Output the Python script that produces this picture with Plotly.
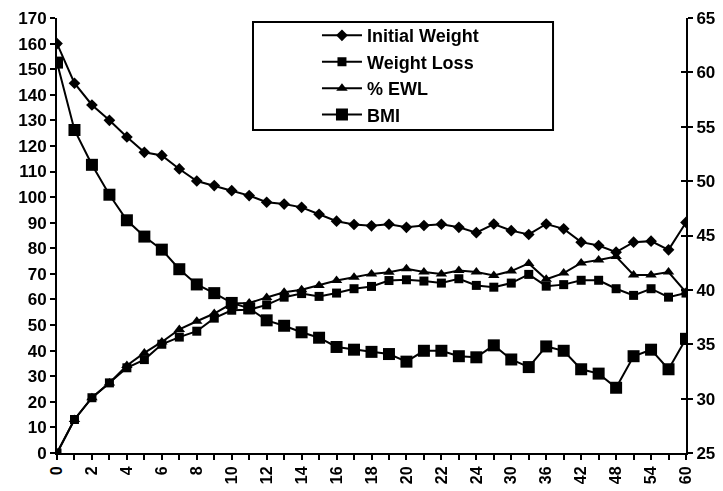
import plotly.graph_objects as go

months = [str(m) for m in list(range(0, 25)) + [27, 30, 33, 36, 39, 42, 45, 48, 51, 54, 57, 60]]

initial_weight = [160, 144.5, 136, 130, 123.5, 117.5, 116.3, 111, 106.3, 104.5, 102.5, 100.6, 98,
                  97.3, 96, 93.3, 90.6, 89.3, 88.8, 89.4, 88.2, 88.9, 89.4, 88.2, 86.1,
                  89.5, 86.9, 85.4, 89.5, 87.6, 82.4, 81.1, 78.5, 82.4, 82.8, 79.4, 90.1]

weight_loss = [0, 13.1, 21.6, 27.4, 33.3, 36.5, 42.5, 45.3, 47.6, 52.7, 55.8, 56, 57.9,
               60.9, 62.3, 61.2, 62.5, 64.2, 65.1, 67.4, 67.7, 67.2, 66.4, 68.1, 65.5,
               64.8, 66.4, 69.8, 65.2, 65.8, 67.5, 67.5, 64.2, 61.6, 64.2, 60.9, 62.5]

ewl = [0, 13.1, 21.6, 27.4, 34.2, 39.1, 43.4, 48.3, 51.5, 54.5, 58.4, 58.6, 60.8,
       62.8, 63.8, 65.5, 67.4, 68.7, 70.0, 70.6, 72.0, 70.7, 70.0, 71.3, 70.7,
       69.4, 71.1, 74.1, 67.9, 70.3, 74.3, 75.4, 76.8, 69.6, 69.6, 70.7, 62.8]

bmi = [60.9, 54.7, 51.5, 48.75, 46.4, 44.9, 43.7, 41.9, 40.5, 39.7, 38.8, 38.3, 37.2,
       36.7, 36.1, 35.6, 34.75, 34.5, 34.3, 34.1, 33.4, 34.4, 34.4, 33.9, 33.8,
       34.9, 33.6, 32.9, 34.8, 34.4, 32.7, 32.3, 31.0, 33.9, 34.5, 32.7, 35.5]

tick_text = [m if i % 2 == 0 else "" for i, m in enumerate(months)]

FONT = "Liberation Sans, Arial, sans-serif"
line = dict(color="black", width=2)

fig = go.Figure()
fig.add_trace(go.Scatter(x=months, y=initial_weight, name="Initial Weight", mode="lines+markers",
                         line=line, marker=dict(symbol="diamond", size=9, color="black")))
fig.add_trace(go.Scatter(x=months, y=weight_loss, name="Weight Loss", mode="lines+markers",
                         line=line, marker=dict(symbol="square", size=9, color="black")))
fig.add_trace(go.Scatter(x=months, y=ewl, name="% EWL", mode="lines+markers",
                         line=line, marker=dict(symbol="triangle-up", size=10, color="black")))
fig.add_trace(go.Scatter(x=months, y=bmi, name="BMI", mode="lines+markers", yaxis="y2",
                         line=line, marker=dict(symbol="square", size=12, color="black")))
# helper axis for the inner half of the right-axis cross ticks
fig.add_trace(go.Scatter(x=months, y=bmi, yaxis="y3", mode="markers", opacity=0,
                         showlegend=False, hoverinfo="skip"))

tickfont = dict(family=FONT, size=17, color="black", weight="bold")

fig.update_layout(
    width=723, height=491,
    margin=dict(l=57, r=37, t=18, b=38),
    paper_bgcolor="white", plot_bgcolor="white",
    font=dict(family=FONT, color="black"),
    xaxis=dict(type="category", range=[0, 36], tickmode="array", tickvals=months, ticktext=tick_text,
               tickangle=-90, ticks="outside", ticklen=5, tickwidth=1.5, tickcolor="black",
               showline=True, linecolor="black", linewidth=2, showgrid=False, zeroline=False,
               automargin=False,
               tickfont=dict(family=FONT, size=16, color="black", weight="bold")),
    yaxis=dict(range=[0, 170], dtick=10, ticks="outside", ticklen=5, tickwidth=1.5, tickcolor="black",
               showline=True, linecolor="black", linewidth=2, showgrid=False, zeroline=False,
               automargin=False, tickfont=tickfont),
    yaxis2=dict(range=[25, 65], dtick=5, overlaying="y", side="right", anchor="x",
                ticks="outside", ticklen=5, tickwidth=1.5, tickcolor="black",
                showline=True, linecolor="black", linewidth=2, showgrid=False, zeroline=False,
                automargin=False, tickfont=tickfont),
    yaxis3=dict(range=[25, 65], dtick=5, overlaying="y", side="right", anchor="x",
                ticks="inside", ticklen=5, tickwidth=1.5, tickcolor="black",
                showline=False, showgrid=False, zeroline=False, showticklabels=False,
                automargin=False),
    legend=dict(x=0.4133, y=1.002, xanchor="left", yanchor="top", bgcolor="rgba(0,0,0,0)",
                borderwidth=0, itemwidth=40,
                font=dict(family=FONT, size=18, color="black", weight="bold")),
    shapes=[dict(type="rect", xref="paper", yref="paper", x0=0.3116, x1=0.7886, y0=0.7425, y1=0.9908,
                 line=dict(color="black", width=2), fillcolor="rgba(0,0,0,0)")],
    showlegend=True,
)

fig.write_html("out.html")
